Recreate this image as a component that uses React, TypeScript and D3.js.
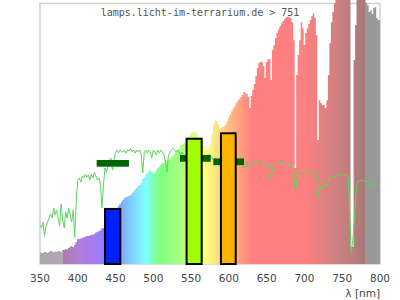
import React from "react";
import * as d3 from "d3";

// Spectrum (relative intensity, 0..100 = plot height), sampled every 2 nm from 350 nm
const spectrumStart = 350;
const spectrumStep = 2;
const spectrumValues = [
  4.2, 4.4, 4.2, 4.6, 4.6, 4.2, 4.6, 5.0, 5.0, 4.6, 4.8, 4.6, 5.0, 5.0, 4.6,
  5.4, 5.4, 5.7, 5.7, 6.1, 6.5, 6.9, 6.5, 7.3, 8.4,
  9.6, 9.6, 9.8, 10.0, 10.3, 10.5, 10.7, 10.7, 10.9, 11.1, 11.3, 11.5, 12.1, 12.3, 12.6, 12.8, 13.6, 13.8,
  14.9, 16.1, 16.9, 17.6, 18.4, 19.2, 19.9, 20.7, 21.5, 22.2, 23.0, 23.8, 24.5,
  25.3, 25.7, 25.9, 26.2, 26.4, 27.2, 27.8, 28.4, 29.1, 29.9, 30.3, 31.0, 32.6, 33.3, 34.1, 34.9, 35.6, 36.0, 35.2,
  34.9, 34.9, 36.0, 36.8, 37.2, 37.9, 38.7, 38.7, 39.5, 39.7, 39.8, 40.2, 40.8, 41.4, 42.1, 42.9, 43.7, 44.4, 45.6, 45.6, 46.0, 46.7,
  47.5, 48.3, 49.0, 49.8, 50.2, 50.6, 50.2, 49.8, 49.0, 47.9, 46.7,
  45.6, 45.2, 44.1, 43.7, 44.8, 46.0, 49.8, 53.6, 55.2, 54.8, 53.6, 51.7,
  52.1, 52.5, 52.9, 53.6, 54.8, 56.3, 57.5, 58.6, 59.8, 60.5,
  61.7, 62.5, 63.2, 64.0, 64.8, 65.9, 65.5, 65.1, 64.0, 59.8, 64.4, 66.7, 69.0, 72.0, 75.1,
  77.0, 77.4, 77.4, 75.9, 71.3, 77.4, 78.5, 78.5, 70.5, 82.0, 83.9, 86.6, 88.5, 90.0, 91.2, 92.3, 93.1, 93.9, 94.6, 94.8,
  94.6, 94.3, 92.7, 85.8, 36.8, 72.4, 80.1, 85.8, 92.7, 90.4,
  83.9, 88.5, 90.4, 92.0, 93.5, 95.0, 96.0, 94.3, 87.7, 47.5,
  62.8, 61.7, 60.9, 60.9, 59.8, 62.8, 72.4, 84.7, 92.7, 96.6,
  100.0, 105, 105, 105, 105, 105, 105, 105, 105, 105,
  105, 6.5, 6.5, 78.2, 91.6, 105, 105, 105, 105, 105,
  105, 100, 99.2, 96.6, 97.3, 95.8, 98.1, 98.5, 94.3, 93.5, 93.5,
];

// Second curve (green line), same sampling
const curveValues = [
  14.9, 13.8, 16.1, 10.7, 14.6, 16.1, 17.6, 19.2, 17.6, 21.5, 18.8, 20.7, 17.6, 14.6, 23.0,
  16.9, 13.8, 19.9, 17.6, 21.5, 18.8, 16.1, 20.7, 10.3, 24.5,
  32.2, 33.0, 31.4, 33.7, 33.0, 34.5, 33.3, 34.1, 32.2, 34.5, 33.0, 35.2, 33.7, 32.2, 33.0, 30.3, 21.5, 30.3,
  36.8, 35.2, 37.9, 39.8, 40.6, 36.0, 39.8, 42.9, 43.7, 42.5, 43.7, 43.3, 42.9,
  43.7, 42.5, 43.7, 43.3, 44.1, 42.9, 43.7, 42.5, 43.7, 42.9, 43.7, 41.8, 34.9, 42.9, 43.7, 42.5, 43.7, 42.9, 40.6,
  43.7, 42.9, 41.8, 43.7, 42.5, 43.7, 42.9, 41.8, 39.1, 35.2, 41.8, 42.9, 43.7, 44.4, 43.7, 42.9, 43.7, 42.9, 41.8, 42.9, 41.8, 41.4,
  41.0, 41.0, 41.4, 41.0, 41.4, 41.0, 41.0, 41.4, 41.0, 40.6, 41.0,
  40.6, 41.0, 39.8, 41.4, 42.1, 41.4, 40.6, 39.8, 40.6, 39.1, 39.8, 39.8,
  39.5, 39.5, 39.8, 39.5, 39.1, 39.5, 39.5, 39.1, 39.5, 39.1,
  39.5, 39.1, 38.7, 39.5, 38.7, 37.5, 38.3, 37.2, 37.9, 37.9, 39.1, 38.7, 39.5, 39.1, 39.5,
  39.1, 38.7, 39.1, 38.3, 37.5, 37.2, 37.9, 35.2, 32.2, 36.8, 37.5, 38.3, 38.7, 38.7, 38.5, 38.7, 38.3, 38.7, 38.3, 38.3,
  37.9, 37.9, 37.5, 36.0, 27.2, 32.2, 34.1, 35.2, 35.6, 36.0,
  35.2, 35.2, 35.6, 35.2, 35.6, 35.2, 35.2, 34.9, 34.1, 25.3,
  30.3, 28.4, 29.9, 29.1, 30.7, 29.9, 32.2, 33.7, 33.3, 33.7,
  33.3, 33.7, 34.1, 34.5, 34.1, 34.1, 34.1, 34.1, 34.1, 33.0,
  18.8, 4.2, 9.2, 16.9, 26.1, 31.4, 31.8, 31.8, 32.2, 31.8,
  31.8, 31.4, 31.4, 30.7, 29.9, 29.9, 30.3, 29.9, 30.3, 29.9, 29.9,
];

// Colour bars (nm range and value)
const barStart = [436, 544, 589.5];
const barEnd = [456.3, 564, 609];
const barValues = [21.1, 48.0, 50.1];
const barColors = ["#0020ff", "#a0ff00", "#ffb400"];

// Dark green range markers
const markerStart = [425, 535.3, 579.4];
const markerEnd = [467.7, 576, 620];
const markerValues = [38.6, 40.5, 39.2];

const xTicks = [350, 400, 450, 500, 550, 600, 650, 700, 750, 800];
const title = "lamps.licht-im-terrarium.de > 751";
const xLabel = "λ [nm]";

// Spectrum colour stops
const colorStopNm = [350, 379.9, 380, 400, 420, 430, 440, 455, 465, 480, 490, 500, 510, 530, 545, 560, 570, 585, 600, 615, 630, 700, 720, 750, 779.9, 780, 800];
const colorStopHex = ["#b0a8b0", "#b0a8b0", "#a87ca8", "#b080d8", "#a878f0", "#9c7cff", "#8080ff", "#80a0ff", "#80c0ff", "#80e8ff", "#80ffff", "#80ffb0", "#80ff80", "#a0ff80", "#c0ff80", "#e8ff80", "#ffff80", "#ffe080", "#ffc080", "#ffa080", "#ff8080", "#ff8080", "#e88080", "#c88080", "#a87878", "#999999", "#999999"];

export default function App() {
  const W = 400, H = 300;
  const x = d3.scaleLinear().domain([350, 800]).range([40, 380]).clamp(true);
  const y = d3.scaleLinear().domain([0, 100]).range([264, 3.1]);

  const spec = spectrumValues.map((v, i) => ({ nm: spectrumStart + i * spectrumStep, v }));
  const specPts = [...spec.map((d) => ({ nm: d.nm - 1, v: d.v })), { nm: spec[spec.length - 1].nm + 1, v: spec[spec.length - 1].v }];
  const area = d3
    .area<{ nm: number; v: number }>()
    .x((d) => x(d.nm))
    .y0(y(0))
    .y1((d) => y(d.v))
    .curve(d3.curveStepAfter);

  const curve = curveValues.map((v, i) => ({ nm: spectrumStart + i * spectrumStep, v }));
  const line = d3
    .line<{ nm: number; v: number }>()
    .x((d) => x(d.nm))
    .y((d) => y(d.v));

  const x0 = x(350), x1 = x(800);

  return (
    <svg width={W} height={H} style={{ position: "absolute", left: 0, top: 0, background: "#fff" }}>
      <defs>
        <linearGradient id="specGrad" gradientUnits="userSpaceOnUse" x1={x0} x2={x1} y1={0} y2={0}>
          {colorStopNm.map((nm, i) => (
            <stop key={i} offset={(x(nm) - x0) / (x1 - x0)} stopColor={colorStopHex[i]} />
          ))}
        </linearGradient>
      </defs>
      <rect x={40} y={3.5} width={340} height={260.5} fill="none" stroke="#d0d0d0" strokeWidth={1.5} />
      <path d={area(specPts) || ""} fill="url(#specGrad)" />
      <path d={line(curve) || ""} fill="none" stroke="#5cd65c" strokeWidth={1} />
      {markerStart.map((s, i) => (
        <rect key={i} x={x(s)} y={y(markerValues[i]) - 3.3} width={x(markerEnd[i]) - x(s)} height={6.7} fill="#006400" />
      ))}
      {barStart.map((s, i) => (
        <rect key={i} x={x(s)} y={y(barValues[i])} width={x(barEnd[i]) - x(s)} height={y(0) - y(barValues[i])} fill={barColors[i]} stroke="#000" strokeWidth={2} />
      ))}
      <text x={200} y={16} textAnchor="middle" fontFamily="DejaVu Sans Mono" fontSize={10} fill="#555">
        {title}
      </text>
      {xTicks.map((t) => (
        <text key={t} x={x(t)} y={282} textAnchor="middle" fontFamily="DejaVu Sans" fontSize={10.5} fill="#444">
          {t}
        </text>
      ))}
      <text x={380} y={297} textAnchor="end" fontFamily="DejaVu Sans" fontSize={10.5} fill="#444">
        {xLabel}
      </text>
    </svg>
  );
}
